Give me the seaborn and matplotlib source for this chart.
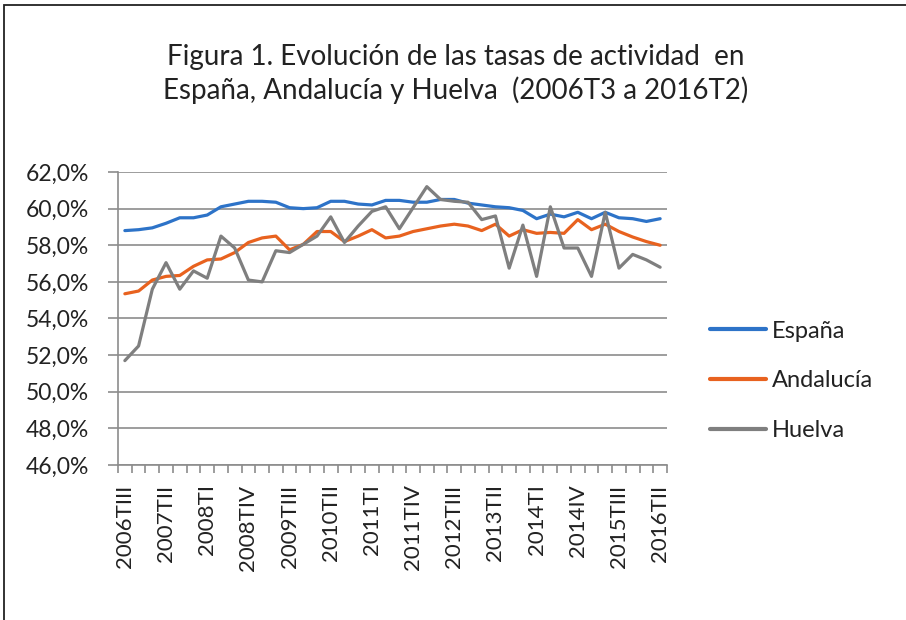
import numpy as np
import pandas as pd
import matplotlib
matplotlib.use("Agg")
import matplotlib.pyplot as plt
import seaborn as sns
from matplotlib.ticker import FixedLocator, FuncFormatter
from matplotlib.patches import Rectangle

# ---------------- data ----------------
quarters = []
_roman = ["I", "II", "III", "IV"]
for year in range(2006, 2017):
    for q in range(4):
        quarters.append(f"{year}T{_roman[q]}")
quarters = quarters[2:2 + 40]  # 2006TIII .. 2016TII

tick_labels = ["2006TIII", "2007TII", "2008TI", "2008TIV", "2009TIII", "2010TII",
               "2011TI", "2011TIV", "2012TIII", "2013TII", "2014TI", "2014IV",
               "2015TIII", "2016TII"]

espana = [58.8, 58.85, 58.95, 59.2, 59.5, 59.5, 59.65, 60.1, 60.25, 60.4,
          60.4, 60.35, 60.05, 60.0, 60.05, 60.4, 60.4, 60.25, 60.2, 60.45,
          60.45, 60.35, 60.35, 60.5, 60.5, 60.3, 60.2, 60.1, 60.05, 59.9,
          59.45, 59.7, 59.55, 59.8, 59.45, 59.8, 59.5, 59.45, 59.3, 59.45]

andalucia = [55.35, 55.5, 56.1, 56.3, 56.35, 56.85, 57.2, 57.25, 57.6, 58.15,
             58.4, 58.5, 57.75, 58.05, 58.75, 58.75, 58.2, 58.5, 58.85, 58.4,
             58.5, 58.75, 58.9, 59.05, 59.15, 59.05, 58.8, 59.15, 58.5, 58.85,
             58.65, 58.7, 58.65, 59.4, 58.85, 59.15, 58.75, 58.45, 58.2, 58.0]

huelva = [51.7, 52.5, 55.6, 57.05, 55.6, 56.6, 56.2, 58.5, 57.85, 56.1,
          56.0, 57.7, 57.6, 58.05, 58.5, 59.55, 58.15, 59.05, 59.85, 60.1,
          58.9, 60.05, 61.2, 60.5, 60.4, 60.35, 59.4, 59.6, 56.75, 59.1,
          56.3, 60.1, 57.85, 57.85, 56.3, 59.8, 56.75, 57.5, 57.2, 56.8]

series_names = ["España", "Andalucía", "Huelva"]
colors = ["#2D73C8", "#E8621F", "#7F7F7F"]

title = "Figura 1. Evolución de las tasas de actividad  en\nEspaña, Andalucía y Huelva  (2006T3 a 2016T2)"

# ---------------- dataframe ----------------
n = len(quarters)
df = pd.DataFrame({
    "idx": list(range(n)) * 3,
    "valor": espana + andalucia + huelva,
    "serie": [series_names[0]] * n + [series_names[1]] * n + [series_names[2]] * n,
})

# ---------------- plot ----------------
sns.set_theme(style="white")
plt.rcParams["font.family"] = ["Lato", "DejaVu Sans"]

fig = plt.figure(figsize=(9.06, 6.2), dpi=100)
ax = fig.add_axes([118 / 906, 1 - 465 / 620, (667 - 118) / 906, (465 - 172) / 620])

sns.lineplot(data=df, x="idx", y="valor", hue="serie", hue_order=series_names,
             palette=colors, linewidth=2.3, ax=ax, legend=True)

ax.set_xlim(-0.5, n - 0.5)
ax.set_ylim(46, 62)
ax.set_yticks(np.arange(46, 62.1, 2))
ax.yaxis.set_major_formatter(FuncFormatter(lambda v, p: f"{v:.1f}%".replace(".", ",")))
ax.grid(axis="y", color="#8C8C8C", linewidth=1.2)
ax.set_axisbelow(True)

major_pos = list(range(0, n, 3))
ax.xaxis.set_major_locator(FixedLocator(major_pos))
ax.set_xticklabels(tick_labels, rotation=90)
ax.xaxis.set_minor_locator(FixedLocator(np.arange(-0.5, n, 1.0)))
ax.tick_params(axis="x", which="major", length=0, pad=14, labelsize=16, colors="#222222")
ax.tick_params(axis="x", which="minor", length=6, width=1.2, color="#8C8C8C", direction="out", bottom=True)
ax.tick_params(axis="y", which="major", length=7, width=1.2, color="#8C8C8C", direction="out",
               left=True, pad=14, labelsize=16.5, labelcolor="#222222")

for side in ["top", "right"]:
    ax.spines[side].set_visible(False)
for side in ["left", "bottom"]:
    ax.spines[side].set_color("#8C8C8C")
    ax.spines[side].set_linewidth(1.2)

ax.set_xlabel("")
ax.set_ylabel("")

leg = ax.legend(loc="center left", bbox_to_anchor=(1.061, 0.287), bbox_transform=ax.transAxes,
                frameon=False, borderaxespad=0,
                fontsize=17, handlelength=2.37, handletextpad=0.25, labelspacing=1.22)
for h in leg.get_lines():
    h.set_linewidth(3)
for t in leg.get_texts():
    t.set_color("#222222")

fig.text(456 / 906, 1 - 74 / 620, title, ha="center", va="center", fontsize=20,
         color="#222222", linespacing=1.25)

fig.patches.append(Rectangle((4 / 906, -0.1), 1.2, 1 - 5 / 620 + 0.1, transform=fig.transFigure,
                             fill=False, edgecolor="#222222", linewidth=1.3))

fig.savefig("out.png", dpi=100, facecolor="white")
